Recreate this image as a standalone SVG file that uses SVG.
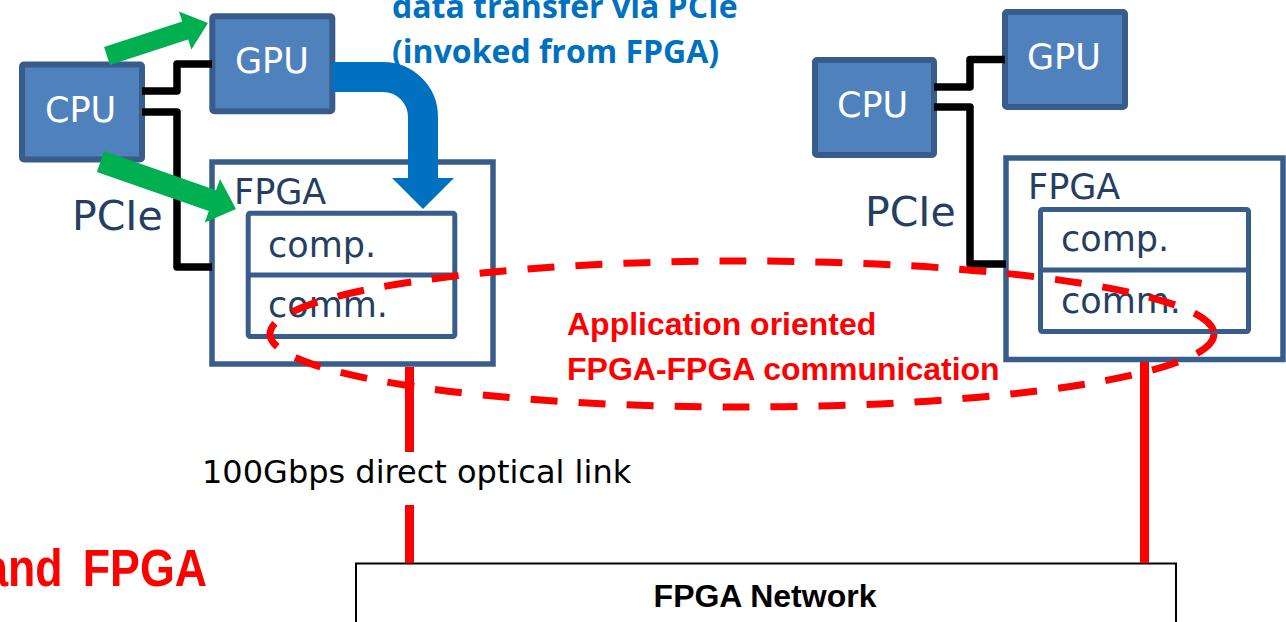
<svg xmlns="http://www.w3.org/2000/svg" width="1286" height="622" viewBox="0 0 1286 622">
  <style>
    .chip { fill: #4f81bd; stroke: #385d8a; stroke-width: 6; }
    .chip-label { font-family: "DejaVu Sans", Verdana, sans-serif; font-size: 35px; fill: #ffffff; }
    .board { fill: #ffffff; stroke: #385d8a; stroke-width: 5.5; }
    .part { fill: none; stroke: #385d8a; stroke-width: 5; }
    .dark-label { font-family: "DejaVu Sans", Verdana, sans-serif; fill: #253f63; }
    .bus { fill: none; stroke: #000000; stroke-width: 7.5; stroke-linejoin: round; }
    .invoke { fill: #00b050; }
    .dma { fill: none; stroke: #0070c0; stroke-width: 30; }
    .link { stroke: #ff0000; stroke-width: 9; }
    .red-bold { font-family: "Liberation Sans", Arial, sans-serif; font-weight: bold; fill: #ff0000; }
    .note-blue { font-family: "Open Sans", "DejaVu Sans", sans-serif; font-weight: bold; font-size: 32px; fill: #0070c0; }
  </style>

  <rect width="1286" height="622" fill="#ffffff"/>

  <!-- left node: CPU / GPU / FPGA -->
  <g id="cpu-left">
    <rect class="chip" x="22" y="64.5" width="120" height="95" rx="2"/>
    <text class="chip-label" x="45" y="122">CPU</text>
  </g>
  <g id="gpu-left">
    <rect class="chip" x="212.3" y="16.3" width="120" height="95" rx="2"/>
    <text class="chip-label" x="235" y="73">GPU</text>
  </g>
  <g id="fpga-left">
    <rect class="board" x="212" y="162" width="281" height="202"/>
    <text class="dark-label" x="234" y="204" font-size="35">FPGA</text>
    <rect class="part" x="248.2" y="213.2" width="206.6" height="123.3" rx="2"/>
    <line class="part" x1="248.2" y1="275" x2="454.8" y2="275"/>
    <text class="dark-label" x="268" y="257" font-size="35">comp.</text>
    <text class="dark-label" x="268" y="317" font-size="35">comm.</text>
  </g>
  <text class="dark-label" x="72" y="230" font-size="41">PCIe</text>

  <!-- right node: CPU / GPU / FPGA -->
  <g id="cpu-right">
    <rect class="chip" x="815" y="60" width="119" height="95" rx="2"/>
    <text class="chip-label" x="837" y="117">CPU</text>
  </g>
  <g id="gpu-right">
    <rect class="chip" x="1005" y="12" width="120" height="95" rx="2"/>
    <text class="chip-label" x="1027" y="69">GPU</text>
  </g>
  <g id="fpga-right">
    <rect class="board" x="1006" y="158" width="277" height="201.5"/>
    <text class="dark-label" x="1028" y="199" font-size="35">FPGA</text>
    <rect class="part" x="1040.5" y="209.5" width="208" height="122" rx="2"/>
    <line class="part" x1="1040.5" y1="270" x2="1248.5" y2="270"/>
    <text class="dark-label" x="1061" y="251" font-size="35">comp.</text>
    <text class="dark-label" x="1061" y="313" font-size="35">comm.</text>
  </g>
  <text class="dark-label" x="865" y="226" font-size="41">PCIe</text>

  <!-- network switch -->
  <g id="fpga-network">
    <rect x="356" y="563.5" width="820" height="80" fill="#ffffff" stroke="#000000" stroke-width="2"/>
    <text x="765" y="607" font-family="'Liberation Sans', Arial, sans-serif" font-weight="bold" font-size="32" text-anchor="middle" fill="#000000">FPGA Network</text>
  </g>

  <g id="connectors">
    <!-- PCIe buses -->
    <path class="bus" d="M142,91 H177 V64 H212"/>
    <path class="bus" d="M142,112 H177 V267 H212"/>
    <path class="bus" d="M934,87 H970 V59.5 H1005"/>
    <path class="bus" d="M934,107 H970 V264 H1006"/>

    <!-- GPU to FPGA transfer -->
    <path class="dma" d="M332,77 H383 A40,40 0 0 1 423,117 V180"/>
    <polygon fill="#0070c0" points="392,178 454,178 423,209"/>

    <!-- CPU invokes GPU and FPGA -->
    <polygon class="invoke" points="109.95,65.03 104.05,46.97 182.25,21.42 178.99,11.44 208,23 191.41,49.46 188.15,39.48"/>
    <polygon class="invoke" points="104.14,151.12 216.05,190.35 220.02,179.03 236,209 204.8,222.43 208.77,211.11 96.86,171.88"/>

    <!-- optical links -->
    <line class="link" x1="409.5" y1="367" x2="409.5" y2="452"/>
    <line class="link" x1="409.5" y1="505" x2="409.5" y2="563"/>
    <line class="link" x1="1144.5" y1="362" x2="1144.5" y2="563"/>

    <!-- FPGA-FPGA communication scope -->
    <ellipse cx="742" cy="334" rx="472" ry="73" fill="none" stroke="#ff0000" stroke-width="7" stroke-dasharray="27 21"/>
  </g>

  <!-- annotations -->
  <text class="note-blue" x="392" y="18">data transfer via PCIe</text>
  <text class="note-blue" x="392" y="63">(invoked from FPGA)</text>
  <text class="red-bold" x="567" y="335" font-size="32">Application oriented</text>
  <text class="red-bold" x="567" y="380" font-size="32">FPGA-FPGA communication</text>
  <text font-family="'DejaVu Sans', Verdana, sans-serif" font-size="32" fill="#000000" x="202" y="483">100Gbps direct optical link</text>
  <text class="red-bold" font-size="52" word-spacing="9" text-anchor="end" transform="translate(207,586) scale(0.86,1)">and FPGA</text>
</svg>
